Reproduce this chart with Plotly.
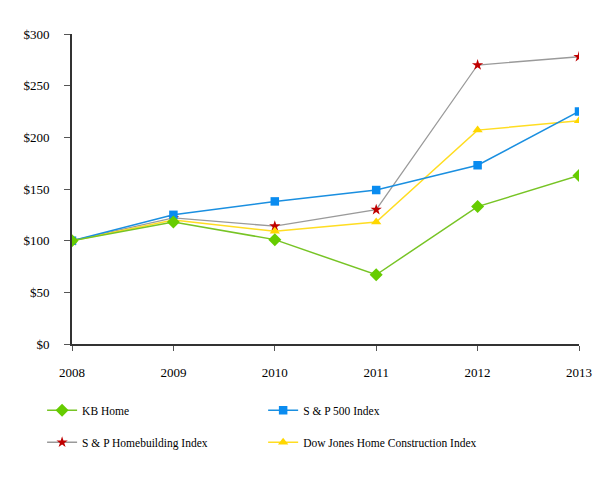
import plotly.graph_objects as go

years = [2008, 2009, 2010, 2011, 2012, 2013]
kb_home = [100, 118, 101, 67, 133, 163]
sp500 = [100, 125, 138, 149, 173, 225]
sp_homebuilding = [100, 122, 114, 130, 270, 278]
dj_home_construction = [100, 120, 109, 118, 207, 216]

y_ticks = [0, 50, 100, 150, 200, 250, 300]
y_labels = ["$%d" % v for v in y_ticks]

font = dict(family="Liberation Serif, Times New Roman, serif", size=13, color="#000000")
legend_font = dict(family="Liberation Serif, Times New Roman, serif", size=11.5, color="#000000")

fig = go.Figure()

# column 1 of the legend
fig.add_trace(go.Scatter(
    x=years, y=sp_homebuilding, name="S & P Homebuilding Index",
    mode="lines+markers", line=dict(color="#9a9a9a", width=1.3),
    marker=dict(symbol="star", size=8.5, color="#c00000"),
    legend="legend", legendgroup="c", legendrank=2,
))
fig.add_trace(go.Scatter(
    x=years, y=dj_home_construction, name="Dow Jones Home Construction Index",
    mode="lines+markers", line=dict(color="#ffdd22", width=1.5),
    marker=dict(symbol="triangle-up", size=9, color="#ffd700"),
    legend="legend2", legendgroup="d", legendrank=2,
))
fig.add_trace(go.Scatter(
    x=years, y=sp500, name="S & P 500 Index",
    mode="lines+markers", line=dict(color="#1a8fe0", width=1.5),
    marker=dict(symbol="square", size=8.5, color="#0a8cf0"),
    legend="legend2", legendgroup="b", legendrank=1,
))
fig.add_trace(go.Scatter(
    x=years, y=kb_home, name="KB Home",
    mode="lines+markers", line=dict(color="#77c425", width=1.5),
    marker=dict(symbol="diamond", size=10, color="#66cc00"),
    legend="legend", legendgroup="a", legendrank=1,
))

legend_common = dict(
    orientation="v", yanchor="top", y=-0.167, xanchor="left",
    font=legend_font, bgcolor="rgba(0,0,0,0)", tracegroupgap=13,
    itemwidth=30, traceorder="grouped",
)

fig.update_layout(
    width=613, height=480,
    margin=dict(l=64, r=42, t=26, b=144),
    paper_bgcolor="white", plot_bgcolor="white",
    font=font,
    showlegend=True,
    legend=dict(x=-0.059, **legend_common),
    legend2=dict(x=0.377, **legend_common),
    xaxis=dict(
        range=[2008, 2013], tickvals=years, ticktext=[str(y) for y in years],
        showgrid=False, zeroline=False, showline=True, linecolor="#333333",
        linewidth=2, ticks="outside", ticklen=5, tickcolor="#555555",
        ticklabelstandoff=10, tickfont=font,
    ),
    yaxis=dict(
        range=[0, 300], tickvals=y_ticks, ticktext=y_labels,
        showgrid=False, zeroline=False, showline=True, linecolor="#333333",
        linewidth=2, ticks="outside", ticklen=6, tickcolor="#555555",
        ticklabelstandoff=12, tickfont=font,
    ),
)

fig.write_html("out.html")
